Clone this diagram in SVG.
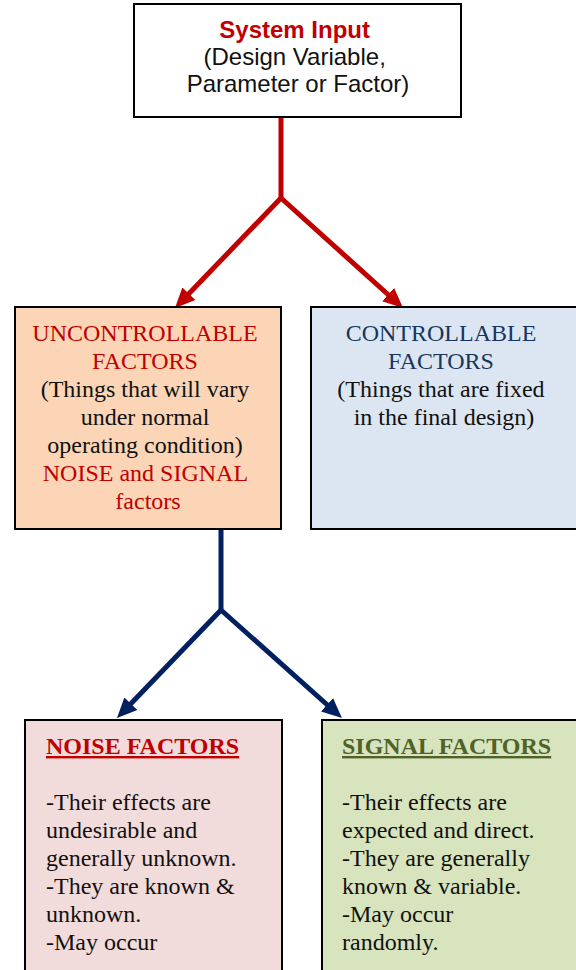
<svg xmlns="http://www.w3.org/2000/svg" width="576" height="970" viewBox="0 0 576 970">
  <style>
    .box { stroke: #000; stroke-width: 2; }
    .sans { font-family: "Liberation Sans", Arial, sans-serif; font-size: 24px; }
    .serif { font-family: "Liberation Serif", "Times New Roman", serif; font-size: 24px; }
    .dark { fill: #111; }
    .red { fill: #C00000; }
    .navy { fill: #17365D; }
    .olive { fill: #4F6228; }
    .red-link { stroke: #C00000; stroke-width: 5; fill: none; }
    .blue-link { stroke: #002060; stroke-width: 5; fill: none; }
  </style>
  <defs>
    <marker id="head-red" viewBox="0 0 20 20" markerUnits="userSpaceOnUse" markerWidth="20" markerHeight="20" refX="8" refY="10" orient="auto">
      <path d="M0,1 L20,10 L0,19 z" fill="#C00000"/>
    </marker>
    <marker id="head-blue" viewBox="0 0 20 20" markerUnits="userSpaceOnUse" markerWidth="20" markerHeight="20" refX="8" refY="10" orient="auto">
      <path d="M0,1 L20,10 L0,19 z" fill="#002060"/>
    </marker>
  </defs>

  <g id="connectors">
    <polyline class="red-link" points="281,118 281,198"/>
    <line class="red-link" x1="281" y1="198" x2="183.3" y2="299.4" marker-end="url(#head-red)"/>
    <line class="red-link" x1="281" y1="198" x2="394.1" y2="300" marker-end="url(#head-red)"/>
    <polyline class="blue-link" points="221,529 221,610"/>
    <line class="blue-link" x1="221" y1="610" x2="125.3" y2="709.4" marker-end="url(#head-blue)"/>
    <line class="blue-link" x1="221" y1="610" x2="333" y2="710" marker-end="url(#head-blue)"/>
  </g>

  <g id="system-input">
    <rect class="box" x="134" y="4" width="327" height="113" fill="#FFFFFF"/>
    <text class="sans" text-anchor="middle" x="298">
      <tspan x="298" y="38" class="red" font-weight="bold">System Input</tspan>
      <tspan x="298" y="65" class="dark">(Design Variable,</tspan>
      <tspan x="298" y="92" class="dark">Parameter or Factor)</tspan>
    </text>
  </g>

  <g id="uncontrollable">
    <rect class="box" x="15" y="307" width="266" height="222" fill="#FBD5B5"/>
    <text class="serif" text-anchor="middle">
      <tspan x="148" y="341" class="red">UNCONTROLLABLE</tspan>
      <tspan x="148" y="369" class="red">FACTORS</tspan>
      <tspan x="148" y="397" class="dark">(Things that will vary</tspan>
      <tspan x="148" y="425" class="dark">under normal</tspan>
      <tspan x="148" y="453" class="dark">operating condition)</tspan>
      <tspan x="148" y="481" class="red">NOISE and SIGNAL</tspan>
      <tspan x="148" y="509" class="red">factors</tspan>
    </text>
  </g>

  <g id="controllable">
    <rect class="box" x="311" y="307" width="266" height="222" fill="#DCE6F2"/>
    <text class="serif" text-anchor="middle">
      <tspan x="444" y="341" class="navy">CONTROLLABLE</tspan>
      <tspan x="444" y="369" class="navy">FACTORS</tspan>
      <tspan x="444" y="397" class="dark">(Things that are fixed</tspan>
      <tspan x="444" y="425" class="dark">in the final design)</tspan>
    </text>
  </g>

  <g id="noise-factors">
    <rect class="box" x="25" y="720" width="257" height="260" fill="#F2DCDB"/>
    <text class="serif red" x="46" y="754" font-weight="bold" text-decoration="underline">NOISE FACTORS</text>
    <text class="serif dark">
      <tspan x="46" y="810">-Their effects are</tspan>
      <tspan x="46" y="838">undesirable and</tspan>
      <tspan x="46" y="866">generally unknown.</tspan>
      <tspan x="46" y="894">-They are known &amp;</tspan>
      <tspan x="46" y="922">unknown.</tspan>
      <tspan x="46" y="950">-May occur</tspan>
    </text>
  </g>

  <g id="signal-factors">
    <rect class="box" x="322" y="720" width="260" height="260" fill="#D7E4BD"/>
    <text class="serif olive" x="342" y="754" font-weight="bold" text-decoration="underline">SIGNAL FACTORS</text>
    <text class="serif dark">
      <tspan x="342" y="810">-Their effects are</tspan>
      <tspan x="342" y="838">expected and direct.</tspan>
      <tspan x="342" y="866">-They are generally</tspan>
      <tspan x="342" y="894">known &amp; variable.</tspan>
      <tspan x="342" y="922">-May occur</tspan>
      <tspan x="342" y="950">randomly.</tspan>
    </text>
  </g>
</svg>
